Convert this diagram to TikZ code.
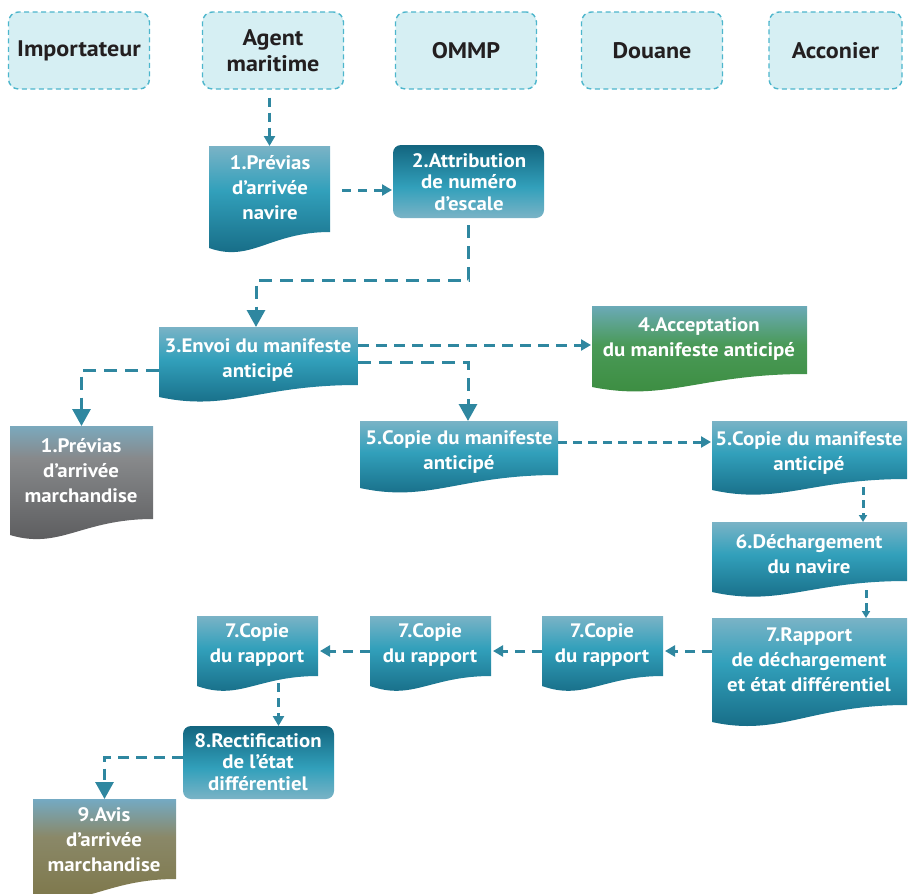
\documentclass[tikz,border=0pt]{standalone}
\usepackage{fontspec}
\setmainfont{PT Sans}[FakeStretch=1.07]
\usetikzlibrary{arrows.meta,calc}
\definecolor{hdrfill}{HTML}{D6EFF3}
\definecolor{hdrline}{HTML}{4DB6CC}
\definecolor{hdrtext}{HTML}{231F20}
\definecolor{arr}{HTML}{2F87A0}
\definecolor{tealA}{HTML}{7AB3C6}
\definecolor{tealB}{HTML}{32A0BB}
\definecolor{tealC}{HTML}{13657F}
\definecolor{greyA}{HTML}{7BA9BD}
\definecolor{greyB}{HTML}{87898B}
\definecolor{greyC}{HTML}{58585A}
\definecolor{greenA}{HTML}{6BAAB8}
\definecolor{greenB}{HTML}{4A9A58}
\definecolor{greenC}{HTML}{3A8B3D}
\definecolor{oliveA}{HTML}{74AAC3}
\definecolor{oliveB}{HTML}{8A8868}
\definecolor{oliveC}{HTML}{7C7546}
\pgfdeclareverticalshading{tealdocsh}{100bp}{color(0bp)=(tealC); color(25bp)=(tealC); color(56bp)=(tealB); color(75bp)=(tealA); color(100bp)=(tealA)}
\pgfdeclareverticalshading{tealboxsh}{100bp}{color(0bp)=(tealA); color(25bp)=(tealA); color(46bp)=(tealB); color(75bp)=(tealC); color(100bp)=(tealC)}
\pgfdeclareverticalshading{greydocsh}{100bp}{color(0bp)=(greyC); color(25bp)=(greyC); color(62bp)=(greyB); color(75bp)=(greyA); color(100bp)=(greyA)}
\pgfdeclareverticalshading{greendocsh}{100bp}{color(0bp)=(greenC); color(25bp)=(greenC); color(55bp)=(greenB); color(75bp)=(greenA); color(100bp)=(greenA)}
\pgfdeclareverticalshading{olivedocsh}{100bp}{color(0bp)=(oliveC); color(25bp)=(oliveC); color(58bp)=(oliveB); color(75bp)=(oliveA); color(100bp)=(oliveA)}
% document shape: #1 name, #2 x0, #3 x1, #4 ytop, #5 yR, #6 yL, #7 fill style
\newcommand{\docshape}[7]{%
  \path[#7] (#2,#4) -- (#3,#4) -- (#3,#5)
    .. controls ({#2+0.5*(#3-#2)},#5) and ({#2+0.35*(#3-#2)},{#6+15}) .. (#2,#6) -- cycle;
  \node[inner sep=0pt,outer sep=0pt,minimum width={(#3-#2)*1pt},minimum height={(#5-#4)*1pt},anchor=north west] (#1) at (#2,#4) {};
}
\begin{document}
\begin{tikzpicture}[x=1pt,y=-1pt,
  hdr/.style={draw=hdrline, fill=hdrfill, dash pattern=on 5pt off 3.5pt, line width=1.4pt,
    rounded corners=10pt, minimum width=141pt, minimum height=77pt, inner sep=0pt,
    font=\fontsize{22.5}{26}\selectfont\bfseries, text=hdrtext, align=center},
  lbl/.style={text=white, font=\fontsize{19.5}{25}\selectfont\bfseries, align=center, inner sep=0pt},
  lbltight/.style={lbl, font=\fontsize{19.5}{21.3}\selectfont\bfseries},
  tealdoc/.style={shading=tealdocsh},
  tealbox/.style={shading=tealboxsh, rounded corners=8pt},
  greydoc/.style={shading=greydocsh},
  greendoc/.style={shading=greendocsh},
  olivedoc/.style={shading=olivedocsh},
  conn/.style={draw=arr, line width=3pt, dash pattern=on 10pt off 7pt},
  smalltip/.style={-{Triangle[width=11pt,length=10pt]}},
  tinytip/.style={-{Triangle[width=8pt,length=7pt]}},
  bigtip/.style={-{Triangle[width=18pt,length=17pt]}}
]
\useasboundingbox (0,0) rectangle (908,894);

% headers
\node[hdr] (imp) at (79,50.5) {Importateur};
\node[hdr] (agent) at (273,50.5) {Agent\\maritime};
\node[hdr] (ommp) at (466,50.5) {OMMP};
\node[hdr] (douane) at (652,50.5) {Douane};
\node[hdr, minimum width=133pt] (acc) at (835.5,50.5) {Acconier};

% documents and boxes
\docshape{d1}{209}{330}{146}{232}{248}{tealdoc}
\node[lbl] (t1) at (270,188) {1.Prévias\\d’arrivée\\navire};

\path[tealbox] (393,145) rectangle (544,218);
\node[inner sep=0pt,outer sep=0pt,minimum width=151pt,minimum height=73pt] (b2) at (468.5,181.5) {};
\node[lbltight] (t2) at (469,182) {2.Attribution\\de numéro\\d’escale};

\docshape{d3}{159}{358}{327}{385}{397}{tealdoc}
\node[lbl] (t3) at (258,360) {3.Envoi du manifeste\\anticipé};

\docshape{d1m}{10}{153}{426}{519}{535}{greydoc}
\node[lbl] (t1m) at (81,471) {1.Prévias\\d’arrivée\\marchandise};

\docshape{d4}{592}{807}{306}{374}{387}{greendoc}
\node[lbl] (t4) at (699,339) {4.Acceptation\\du manifeste anticipé};

\docshape{d5a}{360}{558}{421}{475}{488}{tealdoc}
\node[lbl] (t5a) at (459,452) {5.Copie du manifeste\\anticipé};

\docshape{d5b}{712}{907}{421}{479}{490}{tealdoc}
\node[lbl] (t5b) at (809,453) {5.Copie du manifeste\\anticipé};

\docshape{d6}{712}{907}{522}{581}{592}{tealdoc}
\node[lbl] (t6) at (809,554) {6.Déchargement\\du navire};

\docshape{d7}{712}{907}{618}{705}{722}{tealdoc}
\node[lbl] (t7) at (809,660) {7.Rapport\\de déchargement\\et état différentiel};

\docshape{d7c}{542}{663}{616}{676}{686}{tealdoc}
\node[lbl] (t7c) at (602,645) {7.Copie\\du rapport};

\docshape{d7b}{370}{491}{616}{676}{686}{tealdoc}
\node[lbl] (t7b) at (430,645) {7.Copie\\du rapport};

\docshape{d7a}{197}{318}{616}{676}{686}{tealdoc}
\node[lbl] (t7a) at (257,645) {7.Copie\\du rapport};

\path[tealbox] (183,726) rectangle (334,799);
\node[inner sep=0pt,outer sep=0pt,minimum width=151pt,minimum height=73pt] (b8) at (258.5,762.5) {};
\node[lbltight] (t8) at (258,762) {8.Rectification\\de l’état\\différentiel};

\docshape{d9}{33}{176}{799}{879}{895}{olivedoc}
\node[lbl] (t9) at (104,840) {9.Avis\\d’arrivée\\marchandise};

% connectors
\coordinate (k1) at (256,280);
\draw[conn, smalltip, shorten <=8pt, dash pattern=on 9pt off 6pt] (d1.north |- agent.south) -- (d1.north);
\draw[conn, smalltip, shorten <=12pt, shorten >=1pt, dash pattern=on 9pt off 7pt] (d1.east |- 0,190) -- (b2.west |- 0,190);
\draw[conn, bigtip, shorten <=7pt, dash pattern=on 13pt off 8pt] (b2.south) |- (k1) -- (k1 |- d3.north);
\draw[conn, smalltip, shorten >=1pt, dash pattern=on 11pt off 7pt] ([yshift=11pt]d3.east) -- ([yshift=11pt]d3.east -| d4.west);
\draw[conn, bigtip, dash pattern=on 13pt off 8pt] ([yshift=-6pt]d3.east) -| ([xshift=9pt]d5a.north);
\draw[conn, bigtip, dash pattern=on 13pt off 8pt] ([yshift=-14pt]d3.west) -| (d1m.north);
\draw[conn, smalltip, shorten >=1pt, dash pattern=on 9pt off 6pt] ([yshift=6pt]d5a.east) -- ([yshift=6pt]d5a.east -| d5b.west);
\draw[conn, tinytip, shorten <=8pt, dash pattern=on 8pt off 5pt] ([xshift=53.5pt]d5b.south) -- ([xshift=53.5pt]d6.north);
\draw[conn, tinytip, shorten <=9pt, dash pattern=on 8pt off 5pt] ([xshift=56.5pt]d6.south) -- ([xshift=56.5pt]d7.north);
\draw[conn, smalltip, shorten >=2pt, dash pattern=on 10pt off 7pt] ([yshift=10.5pt]d7.west) -- ([yshift=10.5pt]d7.west -| d7c.east);
\draw[conn, smalltip, shorten >=2pt, dash pattern=on 10pt off 7pt] ([yshift=-5pt]d7c.west) -- ([yshift=-5pt]d7c.west -| d7b.east);
\draw[conn, smalltip, shorten >=2pt, dash pattern=on 10pt off 7pt] ([yshift=-5pt]d7b.west) -- ([yshift=-5pt]d7b.west -| d7a.east);
\draw[conn, smalltip, shorten <=7pt, dash pattern=on 9pt off 6pt] ([xshift=21pt]d7a.south) -- ([xshift=21pt]d7a.south |- b8.north);
\draw[conn, bigtip, dash pattern=on 11pt off 7pt] ([yshift=5.5pt]b8.west) -| (d9.north);
\end{tikzpicture}
\end{document}
